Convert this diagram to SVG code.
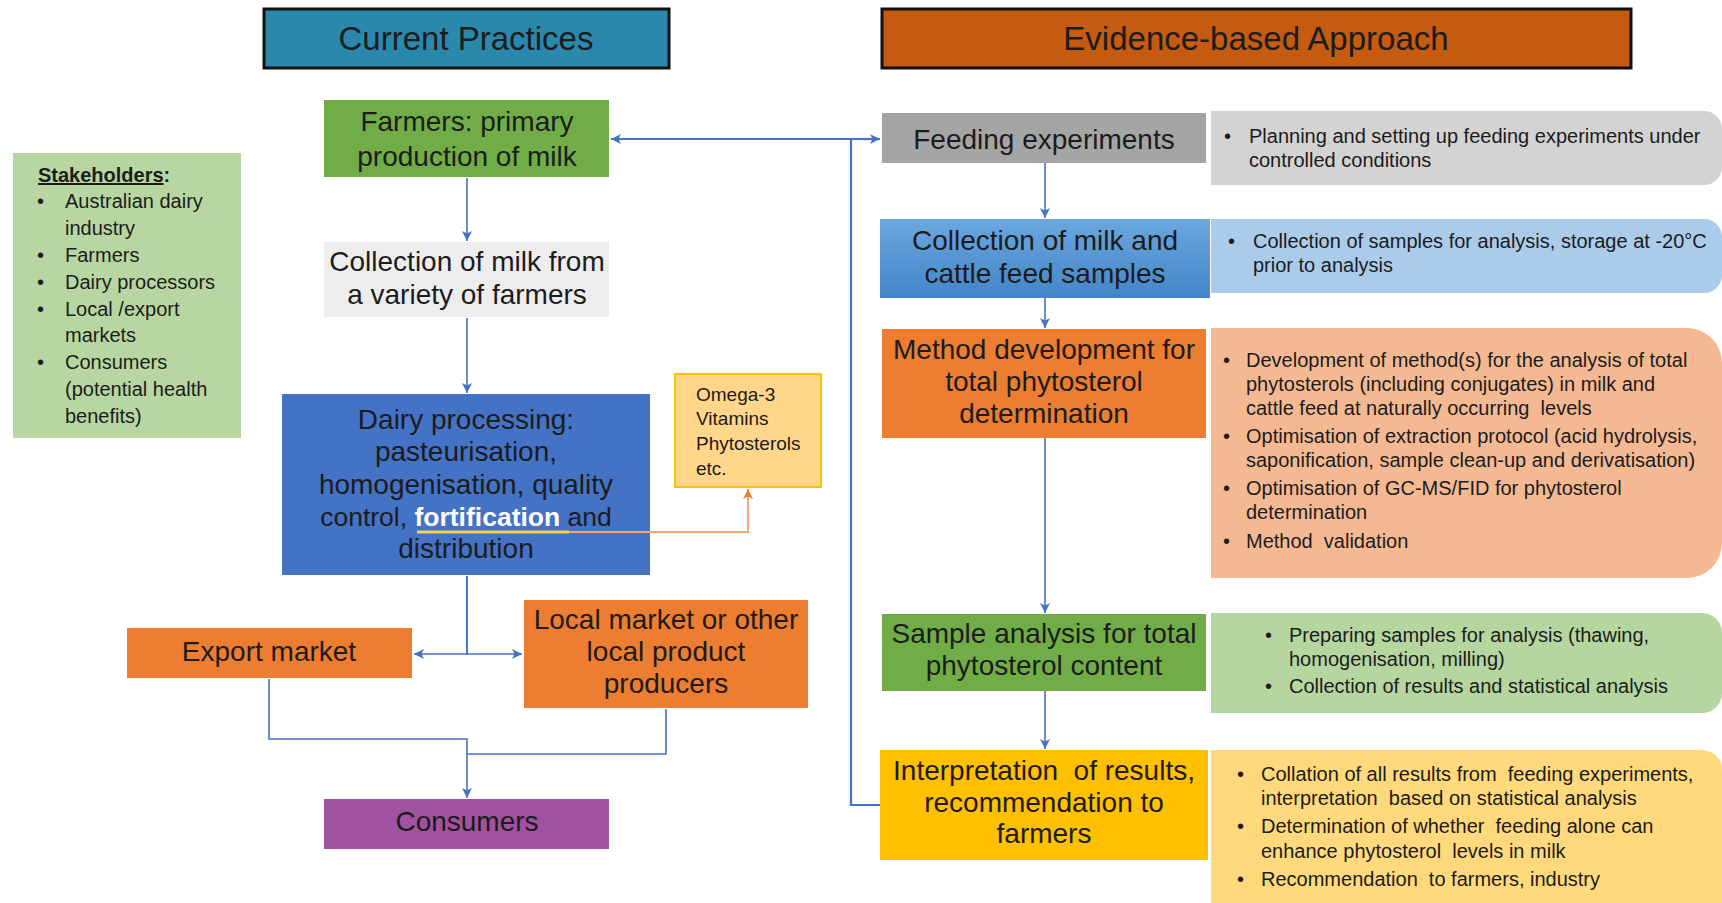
<svg xmlns="http://www.w3.org/2000/svg" width="1722" height="903" viewBox="0 0 1722 903">
  <style>
    text { font-family: "Liberation Sans", Arial, sans-serif; fill: #1c1c1c; white-space: pre; }
    .title { font-size: 33px; text-anchor: middle; }
    .lbl { font-size: 28px; text-anchor: middle; }
    .sm { font-size: 20px; }
    .om { font-size: 19px; }
    .conn { fill: none; stroke: #4472C4; stroke-width: 1.6; }
    .conn2 { fill: none; stroke: #4472C4; stroke-width: 2.2; }
  </style>
  <defs>
    <marker id="ah" viewBox="0 0 10 10" refX="10" refY="5" markerWidth="11" markerHeight="10" markerUnits="userSpaceOnUse" orient="auto">
      <path d="M0,0 L10,5 L0,10 L2.5,5 z" fill="#4472C4"/>
    </marker>
    <marker id="aho" viewBox="0 0 10 10" refX="10" refY="5" markerWidth="11" markerHeight="10" markerUnits="userSpaceOnUse" orient="auto">
      <path d="M0,0 L10,5 L0,10 L2.5,5 z" fill="#ED7D31"/>
    </marker>
    <linearGradient id="blueGrad" x1="0" y1="0" x2="0" y2="1">
      <stop offset="0" stop-color="#6CA7DF"/>
      <stop offset="1" stop-color="#4385C8"/>
    </linearGradient>
  </defs>

  <!-- Column headings -->
  <g id="current-practices">
    <rect x="264" y="9" width="405" height="59" fill="#2B88AD" stroke="#111" stroke-width="3"/>
    <text class="title" x="466" y="50">Current Practices</text>
  </g>
  <g id="evidence-based">
    <rect x="882" y="9" width="749" height="59" fill="#C55A11" stroke="#111" stroke-width="3"/>
    <text class="title" x="1256" y="50">Evidence-based Approach</text>
  </g>

  <!-- Stakeholders panel -->
  <g id="stakeholders">
    <rect x="13" y="153" width="228" height="285" fill="#B7D6A1"/>
    <text class="sm" x="38" y="182" font-weight="bold"><tspan text-decoration="underline">Stakeholders</tspan>:</text>
    <text class="sm" x="37" y="208">•</text><text class="sm" x="65" y="208">Australian dairy</text>
    <text class="sm" x="65" y="235">industry</text>
    <text class="sm" x="37" y="262">•</text><text class="sm" x="65" y="262">Farmers</text>
    <text class="sm" x="37" y="289">•</text><text class="sm" x="65" y="289">Dairy processors</text>
    <text class="sm" x="37" y="316">•</text><text class="sm" x="65" y="316">Local /export</text>
    <text class="sm" x="65" y="342">markets</text>
    <text class="sm" x="37" y="369">•</text><text class="sm" x="65" y="369">Consumers</text>
    <text class="sm" x="65" y="396">(potential health</text>
    <text class="sm" x="65" y="423">benefits)</text>
  </g>

  <!-- Current practices chain -->
  <g id="farmers">
    <rect x="324" y="100" width="285" height="77" fill="#70AD47"/>
    <text class="lbl" x="467" y="131">Farmers: primary</text>
    <text class="lbl" x="467" y="166">production of milk</text>
  </g>
  <g id="milk-collection">
    <rect x="324" y="242" width="285" height="75" fill="#EDEDED"/>
    <text class="lbl" x="467" y="271">Collection of milk from</text>
    <text class="lbl" x="467" y="304">a variety of farmers</text>
  </g>
  <g id="dairy-processing">
    <rect x="282" y="394" width="368" height="181" fill="#4472C4"/>
    <text class="lbl" x="466" y="429">Dairy processing:</text>
    <text class="lbl" x="466" y="461">pasteurisation,</text>
    <text class="lbl" x="466" y="494">homogenisation, quality</text>
    <text class="lbl" x="466" y="526" style="font-size:26.5px">control, <tspan fill="#FFFFFF" font-weight="bold">fortification</tspan> and</text>
    <text class="lbl" x="466" y="558">distribution</text>
    <line x1="417" y1="532" x2="569" y2="532" stroke="#F7D358" stroke-width="3"/>
  </g>
  <g id="fortificants">
    <rect x="675" y="374" width="146" height="113" fill="#FFD68A" stroke="#FFC000" stroke-width="2"/>
    <text class="om" x="696" y="401">Omega-3</text>
    <text class="om" x="696" y="425">Vitamins</text>
    <text class="om" x="696" y="450">Phytosterols</text>
    <text class="om" x="696" y="475">etc.</text>
  </g>
  <g id="export-market">
    <rect x="127" y="628" width="285" height="50" fill="#ED7D31"/>
    <text class="lbl" x="269" y="661">Export market</text>
  </g>
  <g id="local-market">
    <rect x="524" y="600" width="284" height="108" fill="#ED7D31"/>
    <text class="lbl" x="666" y="629">Local market or other</text>
    <text class="lbl" x="666" y="661">local product</text>
    <text class="lbl" x="666" y="693">producers</text>
  </g>
  <g id="consumers">
    <rect x="324" y="799" width="285" height="50" fill="#A052A0"/>
    <text class="lbl" x="467" y="831">Consumers</text>
  </g>

  <!-- Evidence-based approach chain -->
  <g id="feeding-experiments">
    <rect x="882" y="113" width="324" height="50" fill="#A5A5A5"/>
    <text class="lbl" x="1044" y="149">Feeding experiments</text>
  </g>
  <g id="feeding-notes">
    <path d="M1211,111 H1704 A18,18 0 0 1 1722,129 V167 A18,18 0 0 1 1704,185 H1211 Z" fill="#D3D3D3"/>
    <text class="sm" x="1224" y="143">•</text>
    <text class="sm" x="1249" y="143">Planning and setting up feeding experiments under</text>
    <text class="sm" x="1249" y="167">controlled conditions</text>
  </g>

  <g id="sample-collection">
    <rect x="880" y="219" width="330" height="79" fill="url(#blueGrad)"/>
    <text class="lbl" x="1045" y="250">Collection of milk and</text>
    <text class="lbl" x="1045" y="283">cattle feed samples</text>
  </g>
  <g id="sample-collection-notes">
    <path d="M1211,219 H1704 A18,18 0 0 1 1722,237 V275 A18,18 0 0 1 1704,293 H1211 Z" fill="#AACBEA"/>
    <text class="sm" x="1228" y="248">•</text>
    <text class="sm" x="1253" y="248">Collection of samples for analysis, storage at -20°C</text>
    <text class="sm" x="1253" y="272">prior to analysis</text>
  </g>

  <g id="method-development">
    <rect x="882" y="329" width="324" height="109" fill="#ED7D31"/>
    <text class="lbl" x="1044" y="359">Method development for</text>
    <text class="lbl" x="1044" y="391">total phytosterol</text>
    <text class="lbl" x="1044" y="423">determination</text>
  </g>
  <g id="method-notes">
    <path d="M1211,328 H1687 A35,35 0 0 1 1722,363 V543 A35,35 0 0 1 1687,578 H1211 Z" fill="#F4B993"/>
    <text class="sm" x="1223" y="367">•</text>
    <text class="sm" x="1246" y="367">Development of method(s) for the analysis of total</text>
    <text class="sm" x="1246" y="391">phytosterols (including conjugates) in milk and</text>
    <text class="sm" x="1246" y="415">cattle feed at naturally occurring  levels</text>
    <text class="sm" x="1223" y="443">•</text>
    <text class="sm" x="1246" y="443">Optimisation of extraction protocol (acid hydrolysis,</text>
    <text class="sm" x="1246" y="467">saponification, sample clean-up and derivatisation)</text>
    <text class="sm" x="1223" y="495">•</text>
    <text class="sm" x="1246" y="495">Optimisation of GC-MS/FID for phytosterol</text>
    <text class="sm" x="1246" y="519">determination</text>
    <text class="sm" x="1223" y="548">•</text>
    <text class="sm" x="1246" y="548">Method  validation</text>
  </g>

  <g id="sample-analysis">
    <rect x="882" y="614" width="324" height="77" fill="#70AD47"/>
    <text class="lbl" x="1044" y="643">Sample analysis for total</text>
    <text class="lbl" x="1044" y="675">phytosterol content</text>
  </g>
  <g id="analysis-notes">
    <path d="M1211,613 H1702 A20,20 0 0 1 1722,633 V693 A20,20 0 0 1 1702,713 H1211 Z" fill="#B6D6A0"/>
    <text class="sm" x="1265" y="642">•</text>
    <text class="sm" x="1289" y="642">Preparing samples for analysis (thawing,</text>
    <text class="sm" x="1289" y="666">homogenisation, milling)</text>
    <text class="sm" x="1265" y="693">•</text>
    <text class="sm" x="1289" y="693">Collection of results and statistical analysis</text>
  </g>

  <g id="interpretation">
    <rect x="880" y="750" width="328" height="110" fill="#FFC000"/>
    <text class="lbl" x="1044" y="780">Interpretation  of results,</text>
    <text class="lbl" x="1044" y="812">recommendation to</text>
    <text class="lbl" x="1044" y="843">farmers</text>
  </g>
  <g id="interpretation-notes">
    <path d="M1211,750 H1702 A20,20 0 0 1 1722,770 V920 H1211 Z" fill="#FFD97C"/>
    <text class="sm" x="1237" y="781">•</text>
    <text class="sm" x="1261" y="781">Collation of all results from  feeding experiments,</text>
    <text class="sm" x="1261" y="805">interpretation  based on statistical analysis</text>
    <text class="sm" x="1237" y="833">•</text>
    <text class="sm" x="1261" y="833">Determination of whether  feeding alone can</text>
    <text class="sm" x="1261" y="858">enhance phytosterol  levels in milk</text>
    <text class="sm" x="1237" y="886">•</text>
    <text class="sm" x="1261" y="886">Recommendation  to farmers, industry</text>
  </g>

  <!-- Connectors -->
  <g id="connectors">
    <line class="conn" x1="467" y1="178" x2="467" y2="241" marker-end="url(#ah)"/>
    <line class="conn" x1="467" y1="318" x2="467" y2="393" marker-end="url(#ah)"/>
    <path class="conn" d="M467,576 V654 H414" marker-end="url(#ah)"/>
    <path class="conn" d="M467,576 V654 H522" marker-end="url(#ah)"/>
    <path class="conn" d="M269,679 V739 H467 V798" marker-end="url(#ah)"/>
    <path class="conn" d="M666,709 V754 H467"/>
    <path d="M569,532 H748 V489" fill="none" stroke="#F4A774" stroke-width="2" marker-end="url(#aho)"/>
    <path class="conn2" d="M880,805 H851 V139 H611" marker-end="url(#ah)"/>
    <path class="conn2" d="M851,139 H880" marker-end="url(#ah)"/>
    <line class="conn" x1="1045" y1="163" x2="1045" y2="218" marker-end="url(#ah)"/>
    <line class="conn" x1="1045" y1="298" x2="1045" y2="328" marker-end="url(#ah)"/>
    <line class="conn" x1="1045" y1="438" x2="1045" y2="613" marker-end="url(#ah)"/>
    <line class="conn" x1="1045" y1="691" x2="1045" y2="749" marker-end="url(#ah)"/>
  </g>
</svg>
